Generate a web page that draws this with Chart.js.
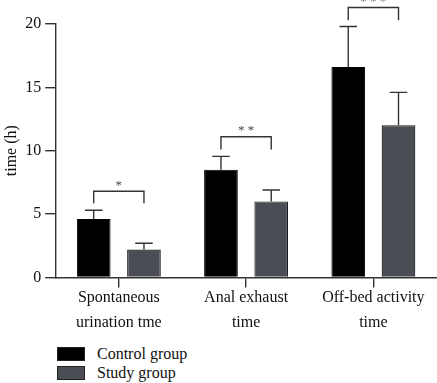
<!DOCTYPE html>
<html>
<head>
<meta charset="utf-8">
<script src="https://cdn.jsdelivr.net/npm/chart.js@4/dist/chart.umd.min.js"></script>
<style>
    body { margin: 0; background: #fff; }
    #wrap { position: relative; width: 437px; height: 383px; }
    #legend { position: absolute; left: 57px; top: 344px; font-family: "Liberation Serif", serif; font-size: 16px; color: #111; }
    .item { display: flex; align-items: center; height: 19px; }
    .box { width: 26px; height: 12px; margin-right: 12px; border: 1px solid #222; }
</style>
</head>
<body>
<div id="wrap">
    <canvas id="chart" width="437" height="340"></canvas>
    <div id="legend"></div>
</div>
<script>
const categories = [['Spontaneous', 'urination tme'], ['Anal exhaust', 'time'], ['Off-bed activity', 'time']];
const controlValues = [4.6, 8.5, 16.6];
const studyValues = [2.2, 6.0, 12.0];
const controlErrors = [5.3, 9.55, 19.8];
const studyErrors = [2.7, 6.9, 14.6];
const brackets = [
    { label: '*', top: 6.8, end: 5.85 },
    { label: '**', top: 11.1, end: 10.1 },
    { label: '***', top: 21.3, end: 20.3 }
];
const yTicks = [0, 5, 10, 15, 20];

const font = "Liberation Serif";

const extras = {
    id: 'extras',
    afterDatasetsDraw(chart) {
        const ctx = chart.ctx;
        const y = chart.scales.y;
        ctx.save();
        ctx.strokeStyle = '#333';
        ctx.lineWidth = 1.4;
        // error bars, upper only
        [controlErrors, studyErrors].forEach((errs, di) => {
            chart.getDatasetMeta(di).data.forEach((bar, i) => {
                const top = y.getPixelForValue(errs[i]);
                const cap = bar.width * 0.26;
                ctx.beginPath();
                ctx.moveTo(bar.x, bar.y);
                ctx.lineTo(bar.x, top);
                ctx.moveTo(bar.x - cap, top);
                ctx.lineTo(bar.x + cap, top);
                ctx.stroke();
            });
        });
        // significance brackets
        const c = chart.getDatasetMeta(0).data;
        const s = chart.getDatasetMeta(1).data;
        ctx.fillStyle = '#444';
        ctx.font = '13px "' + font + '"';
        ctx.textAlign = 'center';
        ctx.textBaseline = 'middle';
        brackets.forEach((b, i) => {
            const yt = y.getPixelForValue(b.top);
            const ye = y.getPixelForValue(b.end);
            ctx.beginPath();
            ctx.moveTo(c[i].x, ye);
            ctx.lineTo(c[i].x, yt);
            ctx.lineTo(s[i].x, yt);
            ctx.lineTo(s[i].x, ye);
            ctx.stroke();
            ctx.fillText(b.label.split('').join(' '), (c[i].x + s[i].x) / 2, yt - 6);
        });
        ctx.restore();
    }
};

const chart = new Chart(document.getElementById('chart'), {
    type: 'bar',
    data: {
        labels: categories,
        datasets: [
            { label: 'Control group', data: controlValues, backgroundColor: '#000', borderColor: '#000', borderWidth: 1 },
            { label: 'Study group', data: studyValues, backgroundColor: '#4b4d55', borderColor: '#1e1e1e', borderWidth: 1.2 }
        ]
    },
    options: {
        responsive: false,
        animation: false,
        layout: { padding: { top: 24, right: 0, left: 2, bottom: 7 } },
        datasets: { bar: { categoryPercentage: 0.79, barPercentage: 0.67 } },
        plugins: { legend: { display: false }, tooltip: { enabled: false } },
        scales: {
            x: {
                border: { color: '#333', width: 1.4 },
                grid: { display: true, offset: false, drawOnChartArea: false, tickLength: 10, color: '#333', lineWidth: 1.4 },
                ticks: { color: '#111', font: { family: font, size: 16, lineHeight: 1.55 }, padding: -2, maxRotation: 0 }
            },
            y: {
                min: 0,
                max: 20,
                afterBuildTicks: (axis) => { axis.ticks = yTicks.map(v => ({ value: v })); },
                border: { color: '#333', width: 1.4 },
                grid: { display: true, drawOnChartArea: false, tickLength: 10, color: '#333', lineWidth: 1.4 },
                ticks: { color: '#111', font: { family: font, size: 16 }, padding: 4 },
                title: { display: true, text: 'time (h)', color: '#111', font: { family: font, size: 16 }, padding: 0 }
            }
        }
    },
    plugins: [extras]
});

const legend = document.getElementById('legend');
chart.data.datasets.forEach(ds => {
    const item = document.createElement('div');
    item.className = 'item';
    item.innerHTML = `<span class="box" style="background:${ds.backgroundColor}"></span><span>${ds.label}</span>`;
    legend.appendChild(item);
});
</script>
</body>
</html>
